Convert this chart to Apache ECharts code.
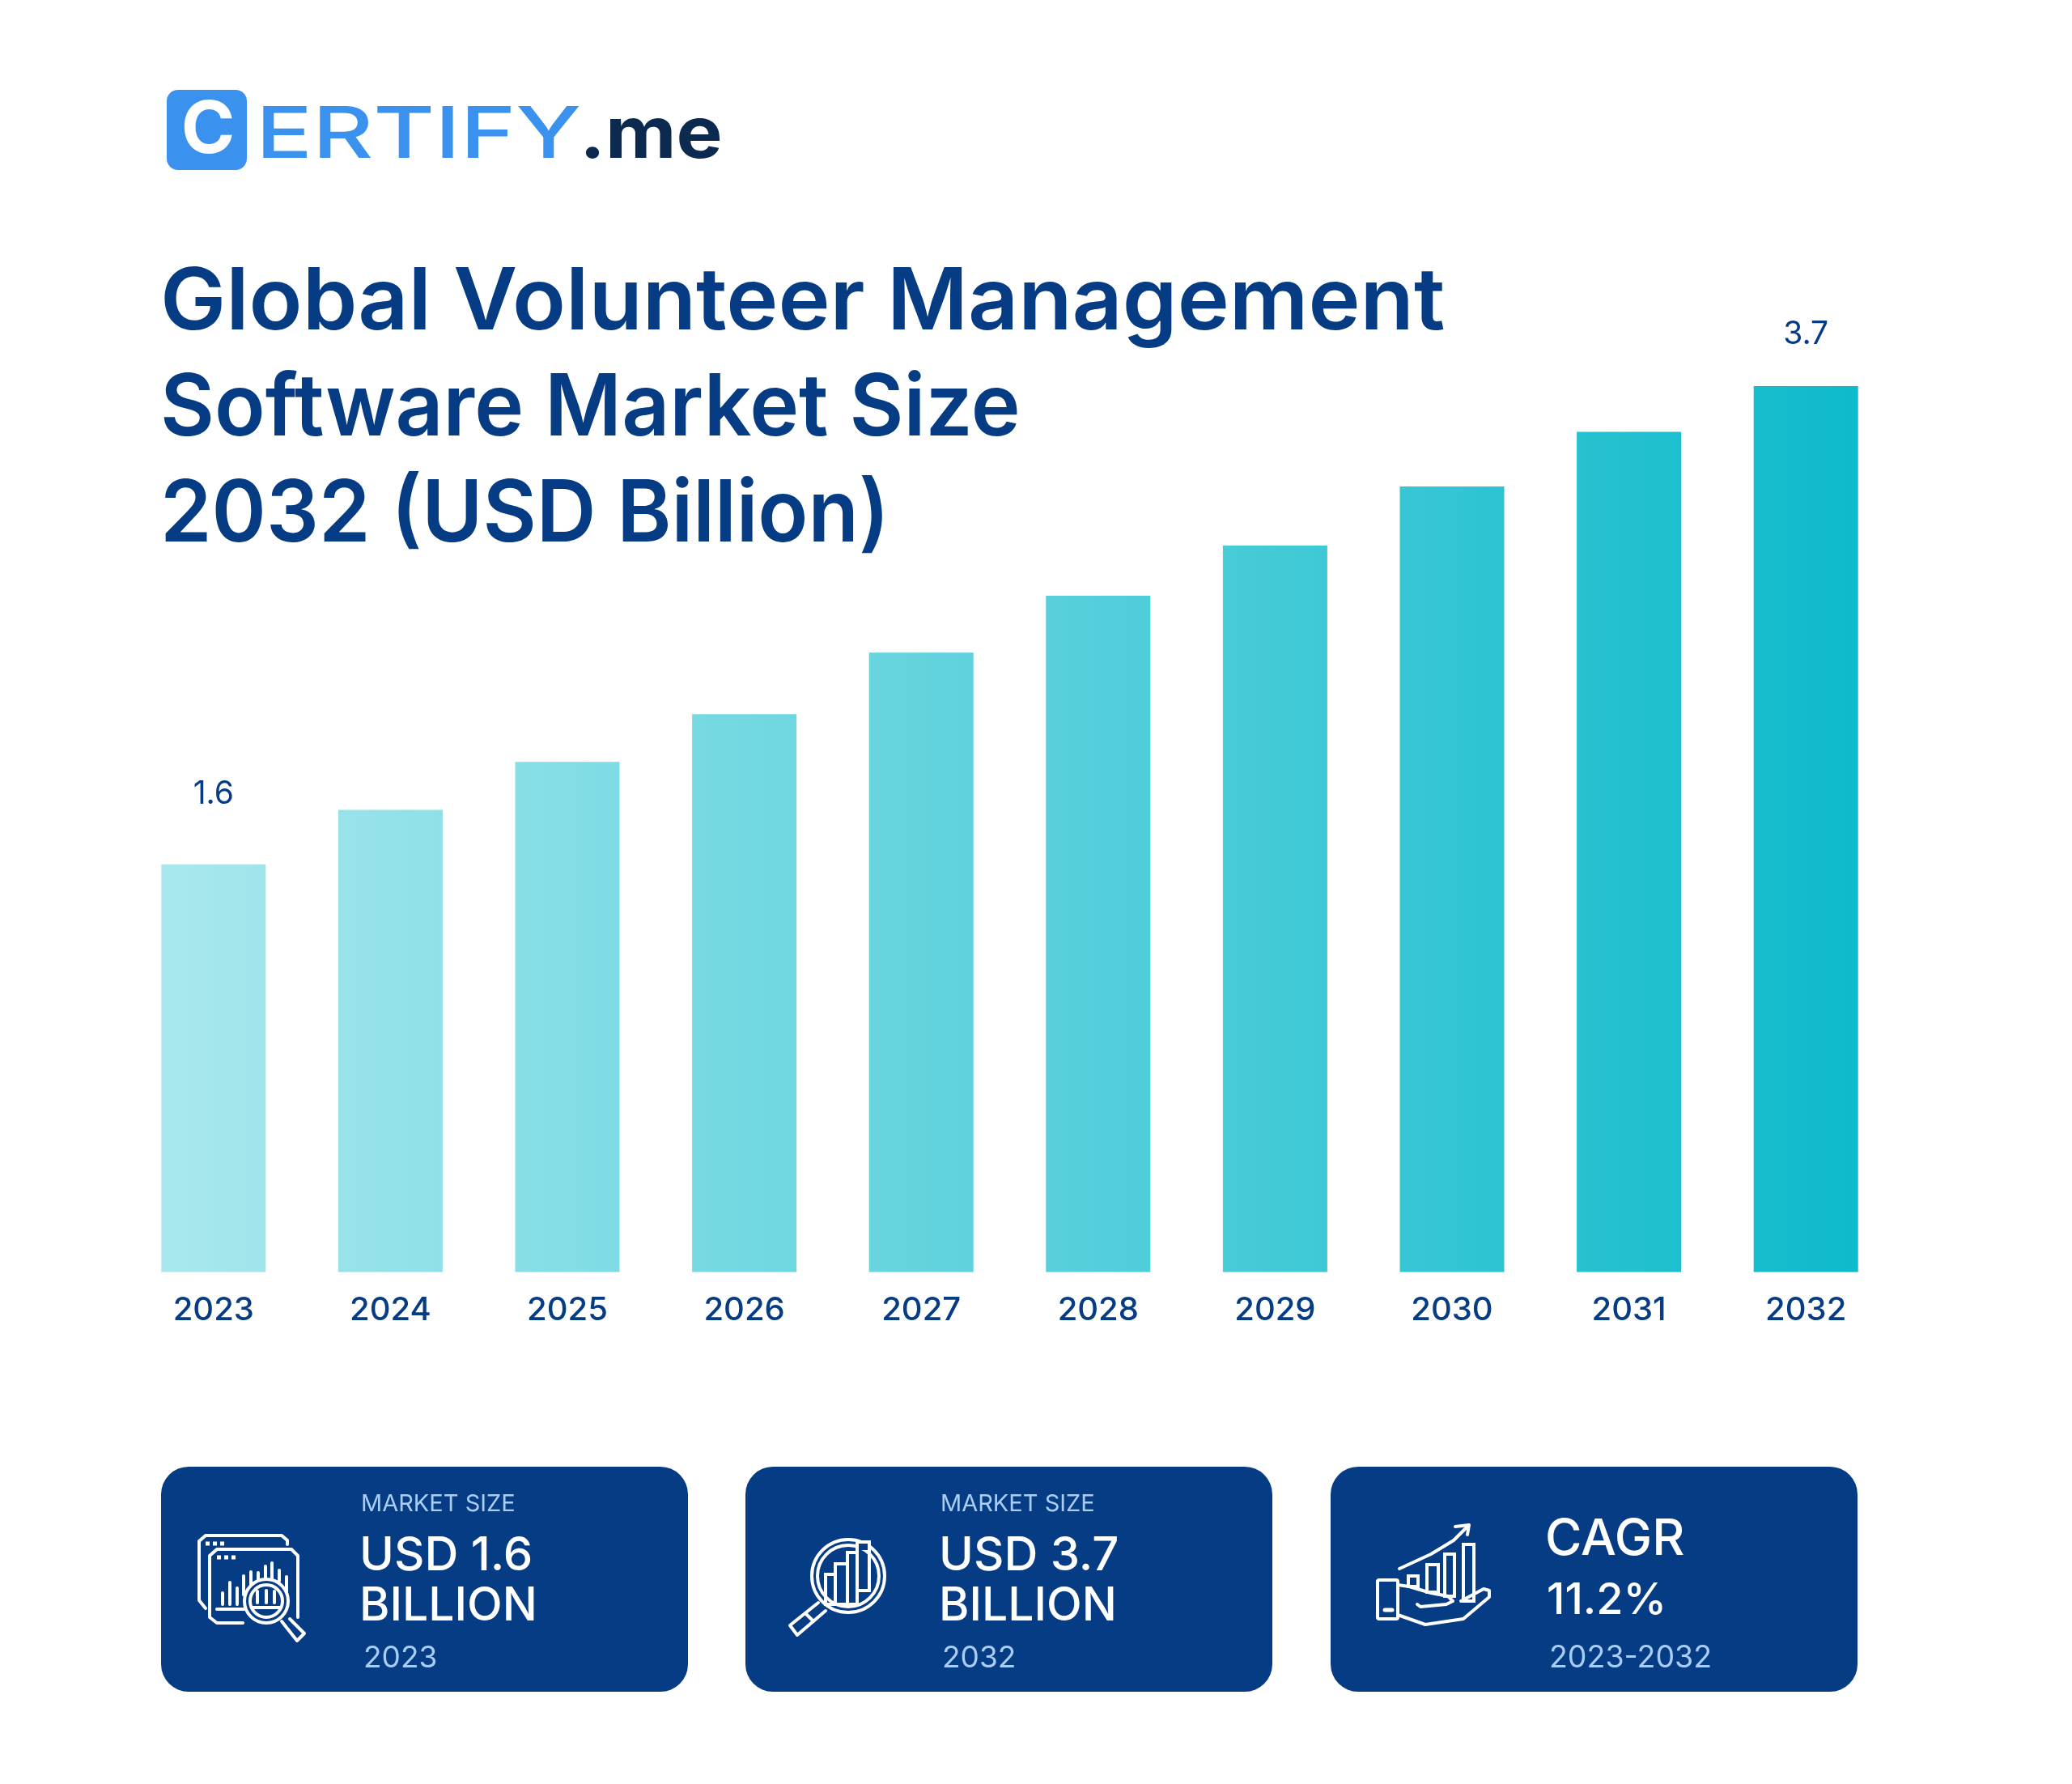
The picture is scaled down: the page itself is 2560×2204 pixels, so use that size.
<!DOCTYPE html>
<html>
<head>
<meta charset="utf-8">
<title>Global Volunteer Management Software Market Size</title>
<style>
html,body{margin:0;padding:0;background:#fff;}
#chartDiv{width:2560px;height:2204px;}
</style>
<script src="https://cdn.jsdelivr.net/npm/echarts@6/dist/echarts.min.js"></script>
</head>
<body>
<div id="chartDiv"></div>
<script>
// chart data
var years = ['2023','2024','2025','2026','2027','2028','2029','2030','2031','2032'];
var marketSize = [1.6,1.84,2.05,2.26,2.53,2.78,3.0,3.26,3.5,3.7];
// the bars in the picture are not drawn to a zero scale, this extra segment makes up the difference
var axisOffset = [0.19,0.19,0.19,0.19,0.19,0.19,0.19,0.19,0.19,0.19];
var labelGap = {0:67, 9:44};

var NAVY = '#063c84';
var PALE = '#a9cdf5';
var FONT = 'Inter';

function txt(x,y,s,size,color,weight,scaleX){
	return {type:'text',x:x,y:y,scaleX:scaleX||1,style:{text:s,fontFamily:FONT,fontSize:size,fontWeight:weight||500,fill:color,textVerticalAlign:'middle'}};
}
function line(pts,w){
	return {type:'polyline',shape:{points:pts},style:{stroke:'#fff',fill:null,lineWidth:w||4,lineCap:'round',lineJoin:'round'}};
}
function box(x,y,w,h,r){
	return {type:'rect',shape:{x:x,y:y,width:w,height:h,r:r||0},style:{stroke:'#fff',fill:null,lineWidth:4}};
}
function ring(cx,cy,r,w,fill){
	return {type:'circle',shape:{cx:cx,cy:cy,r:r},style:{stroke:'#fff',fill:fill||null,lineWidth:w||4}};
}
function dots(x1,x2,y){
	return {type:'line',shape:{x1:x1,y1:y,x2:x2,y2:y},style:{stroke:'#fff',lineWidth:5,lineDash:[5,4]}};
}
function card(x){
	return {type:'rect',shape:{x:x,y:1812,width:651,height:278,r:34},style:{fill:NAVY}};
}

// logo
var logo = [
	{type:'rect',shape:{x:206,y:111,width:99,height:99,r:14},style:{fill:'#3b92ee'}},
	{type:'text',x:257,y:162,style:{text:'C',fontFamily:FONT,fontSize:90,fontWeight:700,fill:'#fff',align:'center',verticalAlign:'middle'}},
	txt(316,169,'ERTIFY',88,'#3b92ee',500,1.32),
	txt(716,169,'.me',88,'#0c2a4f',700,1.09)
];

// icon in card 1, window with chart and magnifier
var icon1 = [
	line([[254,1987],[246,1977],[246,1904],[254,1897],[348,1897],[355,1903],[355,1908]]),
	line([[300,2005],[268,2005],[259,1998],[259,1922],[268,1914],[360,1914],[368,1922],[368,1998]]),
	dots(254,277,1907),
	dots(268,291,1924),
	line([[268,1988],[305,1988]]),
	line([[275,1968],[275,1982]]),line([[284,1955],[284,1982]]),line([[293,1962],[293,1982]]),
	line([[301,1947],[301,1970]]),line([[310,1942],[310,1960]]),line([[319,1943],[319,1953]]),
	line([[328,1935],[328,1950]]),line([[336,1931],[336,1950]]),line([[345,1940],[345,1953]]),line([[354,1948],[354,1967]]),
	ring(329,1978,27,4,NAVY),ring(329,1978,20,4),
	line([[311,1986],[347,1986]]),line([[318,1966],[318,1980]]),line([[329,1965],[329,1980]]),line([[339,1966],[339,1980]]),
	line([[348,2003],[367,2027],[376,2018],[358,2000]])
];
// icon in card 2, magnifier over bars
var icon2 = [
	ring(1048,1947,45,4),ring(1048,1947,38,4),
	{type:'rect',shape:{x:1060,y:1903,width:14,height:12},style:{fill:NAVY}},
	box(1020,1945,12,37),box(1032,1932,15,50),box(1047,1918,12,64),box(1059,1905,15,60),
	line([[1011,1980],[976,2008],[985,2020],[1020,1990]]),
	line([[995,1993],[1005,2003]])
];
// icon in card 3, hand holding bars with arrow
var icon3 = [
	line([[1729,1938],[1768,1920],[1796,1903],[1814,1885]]),
	line([[1798,1886],[1815,1884],[1813,1896]]),
	box(1702,1952,25,48,2),
	line([[1711,1989],[1720,1989]],5),
	box(1740,1947,12,13),box(1763,1933,14,34),box(1785,1920,12,52),box(1808,1908,13,70),
	line([[1727,1958],[1741,1960],[1768,1968],[1789,1972],[1795,1978],[1787,1982],[1755,1985],[1751,1982]]),
	line([[1727,1995],[1761,2007],[1808,2000],[1840,1973],[1840,1965],[1833,1963],[1805,1978]])
];

// title lines are squeezed one by one to fit the wider face used in the picture
var titleLines = [
	txt(198,375,'Global Volunteer Management',106,NAVY,600,1.023),
	txt(198,506,'Software Market Size',106,NAVY,600,0.972),
	txt(198,637,'2032 (USD Billion)',106,NAVY,600,0.963)
];

var graphics = [card(199),card(921),card(1644)]
	.concat(logo,titleLines,icon1,icon2,icon3)
	.concat([
		txt(446,1858,'MARKET SIZE',29,PALE,400),
		txt(444,1923,'USD 1.6',58,'#fff'),
		txt(444,1985,'BILLION',57,'#fff'),
		txt(449,2049,'2023',37,PALE,400),
		txt(1162,1858,'MARKET SIZE',29,PALE,400),
		txt(1160,1923,'USD 3.7',58,'#fff'),
		txt(1160,1985,'BILLION',57,'#fff'),
		txt(1164,2049,'2032',37,PALE,400),
		txt(1909,1902,'CAGR',62,'#fff'),
		txt(1911,1978,'11.2%',54,'#fff'),
		txt(1914,2049,'2023-2032',37.5,PALE,400)
	]);

// one gradient runs across all the bars
var barColor = {type:'linear',x:199,y:0,x2:2295,y2:0,global:true,colorStops:[
	{offset:0,color:'#a8e8ed'},
	{offset:1,color:'#0ebacb'}
]};

var barData = [];
for(var i=0;i<marketSize.length;i++){
	var item = {value:marketSize[i]};
	if(labelGap[i]){
		item.label = {show:true,position:'top',distance:labelGap[i],formatter:'{c}',fontFamily:FONT,fontSize:39,fontWeight:400,color:NAVY};
	}
	barData.push(item);
}

var myChart = echarts.init(document.getElementById('chartDiv'));
var option = {
	backgroundColor:'#fff',
	animation:false,
	grid:{left:154.5,width:2186,top:305.5,height:1266,outerBoundsMode:'none'},
	xAxis:{
		type:'category',
		data:years,
		axisLine:{show:false},
		axisTick:{show:false},
		axisLabel:{margin:27,fontFamily:FONT,fontSize:40,fontWeight:500,color:NAVY}
	},
	yAxis:{type:'value',min:0,max:4.5,show:false},
	series:[
		{name:'offset',type:'bar',stack:'size',barWidth:129,silent:true,itemStyle:{color:barColor},data:axisOffset},
		{name:'Market size',type:'bar',stack:'size',barWidth:129,itemStyle:{color:barColor},data:barData}
	],
	graphic:{elements:graphics}
};
myChart.setOption(option);
</script>
</body>
</html>
